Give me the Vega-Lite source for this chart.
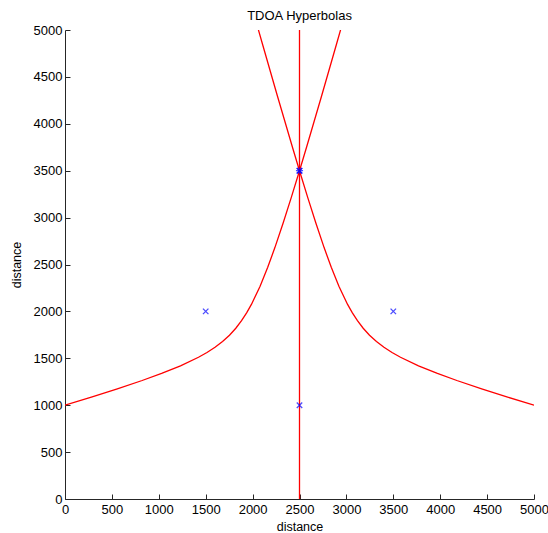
{
  "$schema": "https://vega.github.io/schema/vega-lite/v6.json",
  "autosize": "none",
  "width": 469,
  "height": 469,
  "padding": {"left": 65, "top": 30, "right": 14, "bottom": 34},
  "background": "white",
  "title": {"text": "TDOA Hyperbolas", "fontSize": 13, "fontWeight": "normal", "font": "Liberation Sans", "color": "#000000", "offset": 1},
  "config": {
    "view": {"stroke": null},
    "axis": {
      "labelFont": "Liberation Sans", "labelFontSize": 13, "labelColor": "#000000", "labelFlush": false,
      "titleFont": "Liberation Sans", "titleFontSize": 12.5, "titleFontWeight": "normal", "titleColor": "#000000",
      "domainColor": "#262626", "tickColor": "#262626", "tickSize": -5,
      "grid": false, "format": "d"
    }
  },
  "datasets": {
    "curves": [
      {"s": "h1", "i": 0, "x": 0, "y": 1000},
      {"s": "h1", "i": 1, "x": 289.7, "y": 1089.0},
      {"s": "h1", "i": 2, "x": 557.9, "y": 1174.4},
      {"s": "h1", "i": 3, "x": 822.5, "y": 1263.3},
      {"s": "h1", "i": 4, "x": 1029.9, "y": 1338.7},
      {"s": "h1", "i": 5, "x": 1231.4, "y": 1420.1},
      {"s": "h1", "i": 6, "x": 1423.1, "y": 1511.2},
      {"s": "h1", "i": 7, "x": 1513.6, "y": 1562.1},
      {"s": "h1", "i": 8, "x": 1599.4, "y": 1617.8},
      {"s": "h1", "i": 9, "x": 1679.6, "y": 1679.0},
      {"s": "h1", "i": 10, "x": 1753.5, "y": 1746.5},
      {"s": "h1", "i": 11, "x": 1821.0, "y": 1820.5},
      {"s": "h1", "i": 12, "x": 1882.2, "y": 1900.6},
      {"s": "h1", "i": 13, "x": 1937.9, "y": 1986.4},
      {"s": "h1", "i": 14, "x": 1988.8, "y": 2076.9},
      {"s": "h1", "i": 15, "x": 2079.9, "y": 2268.6},
      {"s": "h1", "i": 16, "x": 2161.3, "y": 2470.1},
      {"s": "h1", "i": 17, "x": 2236.7, "y": 2677.6},
      {"s": "h1", "i": 18, "x": 2325.7, "y": 2942.1},
      {"s": "h1", "i": 19, "x": 2411.0, "y": 3210.3},
      {"s": "h1", "i": 20, "x": 2500, "y": 3500},
      {"s": "h1", "i": 21, "x": 2575.8, "y": 3752.7},
      {"s": "h1", "i": 22, "x": 2736.2, "y": 4299.4},
      {"s": "h1", "i": 23, "x": 2894.2, "y": 4848.4},
      {"s": "h1", "i": 24, "x": 2938.2, "y": 5002.4},
      {"s": "h2", "i": 0, "x": 5000, "y": 1000},
      {"s": "h2", "i": 1, "x": 4710.3, "y": 1089.0},
      {"s": "h2", "i": 2, "x": 4442.1, "y": 1174.4},
      {"s": "h2", "i": 3, "x": 4177.5, "y": 1263.3},
      {"s": "h2", "i": 4, "x": 3970.1, "y": 1338.7},
      {"s": "h2", "i": 5, "x": 3768.6, "y": 1420.1},
      {"s": "h2", "i": 6, "x": 3576.9, "y": 1511.2},
      {"s": "h2", "i": 7, "x": 3486.4, "y": 1562.1},
      {"s": "h2", "i": 8, "x": 3400.6, "y": 1617.8},
      {"s": "h2", "i": 9, "x": 3320.4, "y": 1679.0},
      {"s": "h2", "i": 10, "x": 3246.5, "y": 1746.5},
      {"s": "h2", "i": 11, "x": 3179.0, "y": 1820.5},
      {"s": "h2", "i": 12, "x": 3117.8, "y": 1900.6},
      {"s": "h2", "i": 13, "x": 3062.1, "y": 1986.4},
      {"s": "h2", "i": 14, "x": 3011.2, "y": 2076.9},
      {"s": "h2", "i": 15, "x": 2920.1, "y": 2268.6},
      {"s": "h2", "i": 16, "x": 2838.7, "y": 2470.1},
      {"s": "h2", "i": 17, "x": 2763.3, "y": 2677.6},
      {"s": "h2", "i": 18, "x": 2674.3, "y": 2942.1},
      {"s": "h2", "i": 19, "x": 2589.0, "y": 3210.3},
      {"s": "h2", "i": 20, "x": 2500, "y": 3500},
      {"s": "h2", "i": 21, "x": 2424.2, "y": 3752.7},
      {"s": "h2", "i": 22, "x": 2263.8, "y": 4299.4},
      {"s": "h2", "i": 23, "x": 2105.8, "y": 4848.4},
      {"s": "h2", "i": 24, "x": 2061.8, "y": 5002.4},
      {"s": "v", "i": 0, "x": 2500, "y": 0},
      {"s": "v", "i": 1, "x": 2500, "y": 5000}
    ],
    "sensors": [
      {"kind": "sensor", "x": 1500, "y": 2000},
      {"kind": "sensor", "x": 3500, "y": 2000},
      {"kind": "sensor", "x": 2500, "y": 1000},
      {"kind": "target", "x": 2500, "y": 3500}
    ]
  },
  "layer": [
    {
      "data": {"name": "curves"},
      "mark": {"type": "line", "clip": true, "strokeWidth": 1.3, "color": "#ff0000"},
      "encoding": {
        "x": {"field": "x", "type": "quantitative", "scale": {"domain": [0, 5000], "nice": false}, "axis": {"title": "distance", "values": [0, 500, 1000, 1500, 2000, 2500, 3000, 3500, 4000, 4500, 5000], "labelPadding": 9, "titlePadding": 4}},
        "y": {"field": "y", "type": "quantitative", "scale": {"domain": [0, 5000], "nice": false}, "axis": {"title": "distance", "values": [0, 500, 1000, 1500, 2000, 2500, 3000, 3500, 4000, 4500, 5000], "labelPadding": 8, "titlePadding": 10}},
        "detail": {"field": "s"},
        "order": {"field": "i", "type": "quantitative"}
      }
    },
    {
      "data": {"name": "sensors"},
      "mark": {"type": "point", "shape": "M-1,-1L1,1M-1,1L1,-1", "size": 30, "strokeWidth": 1.3, "color": "#0000ff", "filled": false},
      "encoding": {
        "x": {"field": "x", "type": "quantitative"},
        "y": {"field": "y", "type": "quantitative"}
      }
    },
    {
      "data": {"name": "sensors"},
      "transform": [{"filter": "datum.kind === 'target'"}],
      "mark": {"type": "point", "shape": "M-1,-1L1,1M-1,1L1,-1M0,-1.3L0,1.3M-1.3,0L1.3,0", "size": 30, "strokeWidth": 1.3, "color": "#0000ff", "filled": false},
      "encoding": {
        "x": {"field": "x", "type": "quantitative"},
        "y": {"field": "y", "type": "quantitative"}
      }
    }
  ]
}
